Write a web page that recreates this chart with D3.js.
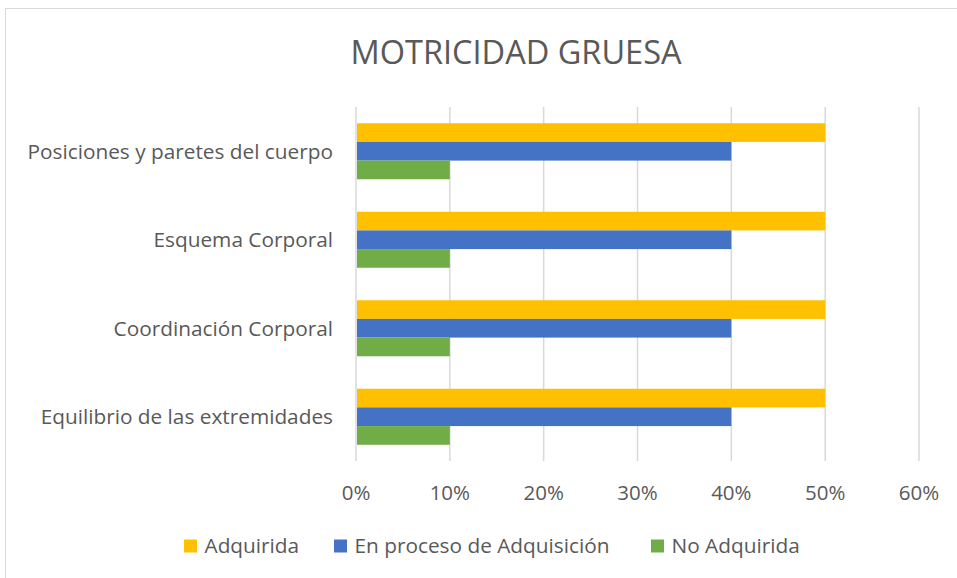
<!DOCTYPE html>
<html>
<head>
<meta charset="utf-8">
<script src="https://cdn.jsdelivr.net/npm/d3@7"></script>
<style>
  body { margin: 0; background: #fff; }
  text { font-family: "Open Sans", "Noto Sans", sans-serif; fill: #595959; }
</style>
</head>
<body>
<svg id="chart" width="957" height="578"></svg>
<script>
// data
const categories = [
  "Posiciones y paretes del cuerpo",
  "Esquema Corporal",
  "Coordinación Corporal",
  "Equilibrio de las extremidades"
];
const seriesNames = ["Adquirida", "En proceso de Adquisición", "No Adquirida"];
const adquirida = [0.5, 0.5, 0.5, 0.5];
const enProceso = [0.4, 0.4, 0.4, 0.4];
const noAdquirida = [0.1, 0.1, 0.1, 0.1];
const xTicks = [0, 0.1, 0.2, 0.3, 0.4, 0.5, 0.6];
const colors = ["#FFC000", "#4472C4", "#70AD47"];

const seriesValues = [adquirida, enProceso, noAdquirida];

// layout
const plot = { left: 356, right: 919, top: 107, bottom: 461 };
const tickFont = 20.5;
const catFont = 20.8;
const legendFont = 20.8;

const svg = d3.select("#chart");

// outer chart border (only top/left fall inside the picture)
svg.append("rect")
  .attr("x", 5.5).attr("y", 8.5)
  .attr("width", 970).attr("height", 600)
  .attr("fill", "none")
  .attr("stroke", "#D9D9D9")
  .attr("stroke-width", 1);

var x = d3.scaleLinear()
  .domain([0, 0.6])
  .range([plot.left, plot.right]);

var y = d3.scaleBand()
  .domain(categories)
  .range([plot.top, plot.bottom])
  .paddingInner(0.367)
  .paddingOuter(0.1835);

var ySub = d3.scaleBand()
  .domain(seriesNames)
  .range([0, y.bandwidth()]);

// gridlines
svg.append("g")
  .selectAll("line")
  .data(xTicks)
  .join("line")
  .attr("x1", d => x(d)).attr("x2", d => x(d))
  .attr("y1", plot.top).attr("y2", plot.bottom)
  .attr("stroke", "#D9D9D9")
  .attr("stroke-width", 1.5);

// bars
const groups = svg.append("g")
  .selectAll("g")
  .data(categories)
  .join("g")
  .attr("transform", d => `translate(0, ${y(d)})`);

groups.selectAll("rect")
  .data((c, i) => seriesNames.map((s, j) => ({ s: s, v: seriesValues[j][i], c: colors[j] })))
  .join("rect")
  .attr("x", x(0) + 1)
  .attr("y", d => ySub(d.s))
  .attr("width", d => x(d.v) - x(0) - 1)
  .attr("height", ySub.bandwidth())
  .attr("fill", d => d.c);

// category labels
svg.append("g")
  .selectAll("text")
  .data(categories)
  .join("text")
  .attr("x", 333)
  .attr("y", d => y(d) + y.bandwidth() / 2)
  .attr("dy", "0.35em")
  .attr("text-anchor", "end")
  .style("font-size", catFont + "px")
  .text(d => d);

// x tick labels
svg.append("g")
  .selectAll("text")
  .data(xTicks)
  .join("text")
  .attr("x", d => x(d))
  .attr("y", 500)
  .attr("text-anchor", "middle")
  .style("font-size", tickFont + "px")
  .text(d3.format(".0%"));

// title
svg.append("text")
  .attr("x", 516)
  .attr("y", 64)
  .attr("text-anchor", "middle")
  .style("font-size", "32.5px")
  .text("MOTRICIDAD GRUESA");

// legend
const legendX = [184, 334, 651];
const legend = svg.append("g");
seriesNames.forEach((s, i) => {
  legend.append("rect")
    .attr("x", legendX[i])
    .attr("y", 539.5)
    .attr("width", 13)
    .attr("height", 13)
    .attr("fill", colors[i]);
  legend.append("text")
    .attr("x", legendX[i] + 20.5)
    .attr("y", 553)
    .style("font-size", legendFont + "px")
    .text(s);
});
</script>
</body>
</html>
